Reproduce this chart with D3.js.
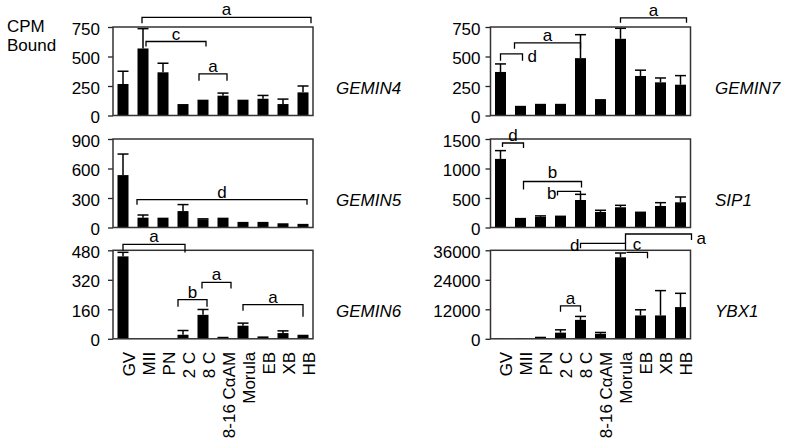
<!DOCTYPE html>
<html>
<head>
<meta charset="utf-8">
<script src="https://cdn.jsdelivr.net/npm/d3@7"></script>
<style>
body { margin: 0; background: #fff; }
text { font-family: Arial, "Liberation Sans", sans-serif; font-size: 17px; fill: #000; }
</style>
</head>
<body>
<svg id="viz" width="785" height="448"></svg>
<script>
// DATA
const categories = ["GV", "MII", "PN", "2 C", "8 C", "8-16 C\u03b1AM", "Morula", "EB", "XB", "HB"];

const gemin4 = [267, 568, 366, 97, 134, 168, 134, 142, 97, 196];
const gemin4Err = [108, 168, 77, 0, 0, 22, 0, 28, 42, 54];
const gemin7 = [369, 82, 99, 99, 486, 139, 650, 335, 281, 261];
const gemin7Err = [68, 0, 0, 0, 199, 0, 89, 49, 37, 77];
const gemin5 = [533, 100, 100, 167, 83, 100, 57, 57, 43, 37];
const gemin5Err = [214, 27, 0, 66, 5, 0, 0, 0, 0, 0];
const sip1 = [1163, 163, 180, 202, 466, 264, 343, 270, 365, 427];
const sip1Err = [140, 0, 17, 0, 96, 28, 33, 0, 56, 90];
const gemin6 = [447, 0, 0, 22, 130, 11, 71, 13, 31, 22];
const gemin6Err = [22, 0, 0, 23, 29, 0, 14, 0, 12, 0];
const ybx1 = [150, 200, 850, 2500, 7700, 2040, 33150, 9500, 9500, 12900];
const ybx1Err = [0, 0, 0, 1150, 1400, 540, 1750, 2300, 10100, 5600];

const gemin4Ticks = [0, 250, 500, 750];
const gemin7Ticks = [0, 250, 500, 750];
const gemin5Ticks = [0, 300, 600, 900];
const sip1Ticks = [0, 500, 1000, 1500];
const gemin6Ticks = [0, 160, 320, 480];
const ybx1Ticks = [0, 12000, 24000, 36000];

// significance brackets: [from category, to category, height (data units), letter]
const gemin4Sig = [["MII", "HB", 832, "a"], ["MII", "8 C", 627, "c"], ["8 C", "8-16 C\u03b1AM", 353, "a"]];
const gemin7Sig = [["GV", "MII", 523, "d"], ["MII", "8 C", 616, "a"], ["Morula", "HB", 828, "a"]];
const gemin5Sig = [["MII", "HB", 283, "d"]];
const sip1Sig = [["GV", "MII", 1432, "d"], ["MII", "8 C", 780, "b"], ["2 C", "8 C", 612, "b"]];
const gemin6Sig = [["GV", "2 C", 512, "a"], ["2 C", "8 C", 212, "b"], ["8 C", "8-16 C\u03b1AM", 306, "a"], ["Morula", "HB", 185, "a"]];
const ybx1Sig = [["2 C", "8 C", 13400, "a"], ["8 C", "Morula", 38840, "d"], ["Morula", "HB", 42630, "a"], ["Morula", "EB", 35180, "c"]];

// bracket drawing tweaks (px): [dx1, dx2, tick1, tick2, label side, label dy]
const gemin4SigStyle = [[-1, 8, 6, 6, "top", 0], [3, 3, 5, 5, "top", 0], [-4, 4, 7, 7, "top", 0]];
const gemin7SigStyle = [[0, 2, 7, 7, "right", 0], [-6, 0, 6, 6, "top", 0], [0, 6, 5, 5, "top", 0]];
const gemin5SigStyle = [[-6, 4, 5, 5, "top", 0]];
const sip1SigStyle = [[2, 3, 4, 5, "top", 0], [3, 1, 8, 6, "top", -1], [-3, 0, 4, 3, "left", 3]];
const gemin6SigStyle = [[0, 2, 6, 8, "top", 0], [-5, 4, 7, 7, "top", 0], [-1, 8, 6, 6, "top", 0], [0, 0, 6, 12, "top", 0]];
const ybx1SigStyle = [[0, 0, 6, 6, "top", 0], [0, 5, 5, 7, "left", 0], [5, 11, 9, 6, "right", 0], [6, 7, 0, 6, "top", 0]];

// LAYOUT
const colX = [113, 490.5], plotW = 200;
const rowY = [27, 139, 250.3], plotH = 88.5;

const panels = [
    { gene: "GEMIN4", col: 0, row: 0, v: gemin4, e: gemin4Err, t: gemin4Ticks, s: gemin4Sig, st: gemin4SigStyle },
    { gene: "GEMIN7", col: 1, row: 0, v: gemin7, e: gemin7Err, t: gemin7Ticks, s: gemin7Sig, st: gemin7SigStyle },
    { gene: "GEMIN5", col: 0, row: 1, v: gemin5, e: gemin5Err, t: gemin5Ticks, s: gemin5Sig, st: gemin5SigStyle },
    { gene: "SIP1", col: 1, row: 1, v: sip1, e: sip1Err, t: sip1Ticks, s: sip1Sig, st: sip1SigStyle },
    { gene: "GEMIN6", col: 0, row: 2, v: gemin6, e: gemin6Err, t: gemin6Ticks, s: gemin6Sig, st: gemin6SigStyle },
    { gene: "YBX1", col: 1, row: 2, v: ybx1, e: ybx1Err, t: ybx1Ticks, s: ybx1Sig, st: ybx1SigStyle }
];

var svg = d3.select("#viz");

svg.append("text").attr("x", 7).attr("y", 32).text("CPM");
svg.append("text").attr("x", 7).attr("y", 51).text("Bound");

panels.forEach(function (p) {
    var x0 = colX[p.col], y0 = rowY[p.row];
    var xScale = d3.scaleBand().domain(categories)
        .range([x0, x0 + plotW]).paddingInner(0.45).paddingOuter(0.225);
    var yScale = d3.scaleLinear().domain([0, d3.max(p.t)]).range([y0 + plotH, y0]);
    var bw = xScale.bandwidth();
    var cx = function (c) { return xScale(c) + bw / 2; };
    var g = svg.append("g");

    // y axis
    var ax = g.append("g")
        .attr("transform", "translate(" + x0 + ",0)")
        .call(d3.axisLeft(yScale).tickValues(p.t).tickFormat(d3.format("d"))
            .tickSize(5).tickPadding(p.col ? 5 : 8));
    ax.select(".domain").remove();
    ax.selectAll("line").attr("stroke", "#222").attr("stroke-width", 1.3);
    ax.selectAll("text")
        .attr("font-size", 17).attr("font-family", "Arial, 'Liberation Sans', sans-serif")
        .attr("dy", "0.42em");

    var data = categories.map(function (c, i) { return { c: c, v: p.v[i], e: p.e[i] }; });

    // bars
    g.selectAll(".bar").data(data).enter().append("rect")
        .attr("class", "bar")
        .attr("x", function (d) { return xScale(d.c); })
        .attr("width", bw)
        .attr("y", function (d) { return yScale(d.v); })
        .attr("height", function (d) { return yScale(0) - yScale(d.v); })
        .attr("fill", "#000");

    // error bars (upper only)
    var eb = g.selectAll(".err").data(data.filter(function (d) { return d.e > 0; }))
        .enter().append("g").attr("class", "err")
        .attr("stroke", "#000").attr("stroke-width", 1.5);
    eb.append("line")
        .attr("x1", function (d) { return cx(d.c); }).attr("x2", function (d) { return cx(d.c); })
        .attr("y1", function (d) { return yScale(d.v); })
        .attr("y2", function (d) { return yScale(d.v + d.e); });
    eb.append("line")
        .attr("x1", function (d) { return xScale(d.c); }).attr("x2", function (d) { return xScale(d.c) + bw; })
        .attr("y1", function (d) { return yScale(d.v + d.e); })
        .attr("y2", function (d) { return yScale(d.v + d.e); });

    // frame
    g.append("rect")
        .attr("x", x0).attr("y", y0).attr("width", plotW).attr("height", plotH)
        .attr("fill", "none").attr("stroke", "#333").attr("stroke-width", 1.5);

    // significance brackets
    p.s.forEach(function (b, i) {
        var st = p.st[i];
        var xa = cx(b[0]) + st[0], xb = cx(b[1]) + st[1], yy = yScale(b[2]);
        g.append("path")
            .attr("d", "M" + xa + "," + (yy + st[2]) + "V" + yy + "H" + xb + "V" + (yy + st[3]))
            .attr("fill", "none").attr("stroke", "#000").attr("stroke-width", 1.3);
        var lab = g.append("text").text(b[3]);
        if (st[4] === "top") {
            lab.attr("x", (xa + xb) / 2).attr("y", yy - 2 + st[5]).attr("text-anchor", "middle");
        } else if (st[4] === "right") {
            lab.attr("x", xb + 5).attr("y", yy + Math.max(st[2], st[3]) + 1 + st[5]);
        } else {
            lab.attr("x", xa - 1).attr("y", yy + Math.max(st[2], st[3]) + 1 + st[5]).attr("text-anchor", "end");
        }
    });

    // gene name
    g.append("text")
        .attr("x", x0 + plotW + (p.col ? 24.5 : 23))
        .attr("y", y0 + 67)
        .attr("font-style", "italic")
        .text(p.gene);

    // stage labels under bottom row
    if (p.row === 2) {
        g.selectAll(".xlab").data(categories).enter().append("text")
            .attr("class", "xlab")
            .attr("transform", function (c) { return "translate(" + cx(c) + "," + (y0 + plotH + 13) + ") rotate(-90)"; })
            .attr("dy", "0.68em")
            .attr("text-anchor", "end")
            .text(function (c) { return c; });
    }
});
</script>
</body>
</html>
